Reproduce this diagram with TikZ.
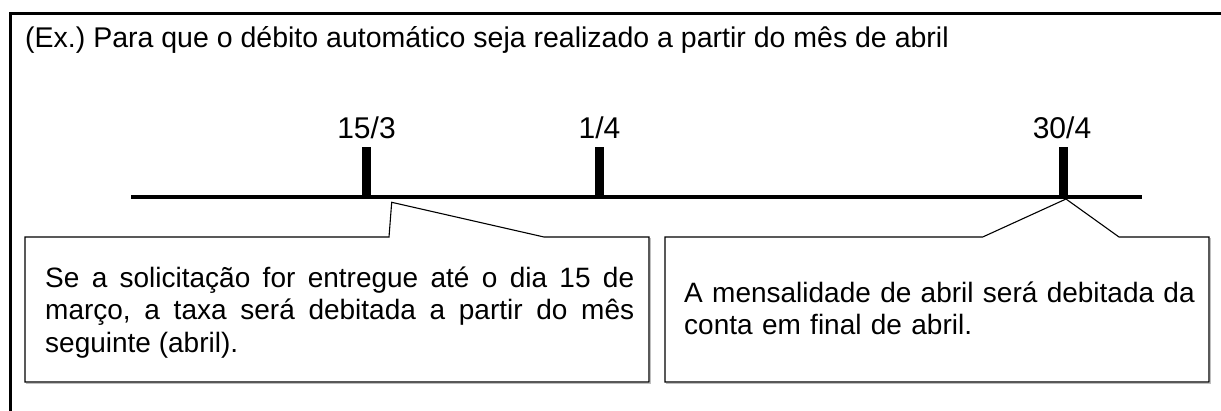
\documentclass[tikz,border=0pt]{standalone}
\usepackage{fontspec}
\setmainfont{Liberation Sans}
\frenchspacing
\begin{document}
\begin{tikzpicture}[x=1pt,y=-1pt,
  frameline/.style={line width=2.5pt},
  axisline/.style={line width=4pt},
  tickmark/.style={line width=9pt},
  callout/.style={line width=1.1pt, line join=miter},
  shadowline/.style={line width=1.1pt, black!25},
  datelabel/.style={font=\fontsize{30}{34}\selectfont, anchor=base, inner sep=0pt},
  titletext/.style={font=\fontsize{28.5}{32}\selectfont, anchor=base west, inner sep=0pt},
  bodytext/.style={font=\fontsize{28}{32.5}\selectfont, anchor=base west, inner sep=0pt}]
\useasboundingbox (0,0) rectangle (1221,410);
% outer frame (only top and left edges visible)
\coordinate (fa) at (10.5,412);
\coordinate (fb) at (10.5,13.3);
\coordinate (fc) at (1223,13.3);
\draw[frameline] (fa) -- (fb) -- (fc);
% title
\node[titletext] (title) at (25,47) {(Ex.) Para que o débito automático seja realizado a partir do mês de abril};
% timeline
\coordinate (tl) at (131,197);
\coordinate (tr) at (1142,197);
\draw[axisline] (tl) -- (tr);
% ticks
\coordinate (k1t) at (366.5,147); \coordinate (k1b) at (366.5,197);
\coordinate (k2t) at (599.5,147); \coordinate (k2b) at (599.5,197);
\coordinate (k3t) at (1063,147);  \coordinate (k3b) at (1063,197);
\draw[tickmark] (k1t) -- (k1b);
\draw[tickmark] (k2t) -- (k2b);
\draw[tickmark] (k3t) -- (k3b);
% date labels
\node[datelabel] (d1) at (366.5,138) {15/3};
\node[datelabel] (d2) at (599.5,138) {1/4};
\node[datelabel] (d3) at (1062,138) {30/4};
% callout 1
\coordinate (a1) at (25,237);
\coordinate (a2) at (389,237);
\coordinate (a3) at (391.7,202.3);
\coordinate (a4) at (544,237);
\coordinate (a5) at (649,237);
\coordinate (a6) at (649,382);
\coordinate (a7) at (25,382);
\draw[shadowline] ([shift={(1.2,1.2)}]a5) -- ([shift={(1.2,1.2)}]a6) -- ([shift={(1.2,1.2)}]a7);
\draw[callout, fill=white] (a1) -- (a2) -- (a3) -- (a4) -- (a5) -- (a6) -- (a7) -- cycle;
% callout 2
\coordinate (b1) at (665,237);
\coordinate (b2) at (982.7,237);
\coordinate (b3) at (1066,199);
\coordinate (b4) at (1119,237);
\coordinate (b5) at (1209,237);
\coordinate (b6) at (1209,382);
\coordinate (b7) at (665,382);
\draw[shadowline] ([shift={(1.2,1.2)}]b5) -- ([shift={(1.2,1.2)}]b6) -- ([shift={(1.2,1.2)}]b7);
\draw[callout, fill=white] (b1) -- (b2) -- (b3) -- (b4) -- (b5) -- (b6) -- (b7) -- cycle;
% texts
\node[bodytext, text width=589pt, align=justify] (txt1) at (45,287)
  {Se a solicitação for entregue até o dia 15 de\linebreak março, a taxa será debitada a partir do mês\linebreak seguinte (abril).};
\node[bodytext, text width=520pt, align=left] (txt2) at (684,302)
  {A mensalidade de abril será debitada da\\conta em final de abril.};
\end{tikzpicture}
\end{document}
